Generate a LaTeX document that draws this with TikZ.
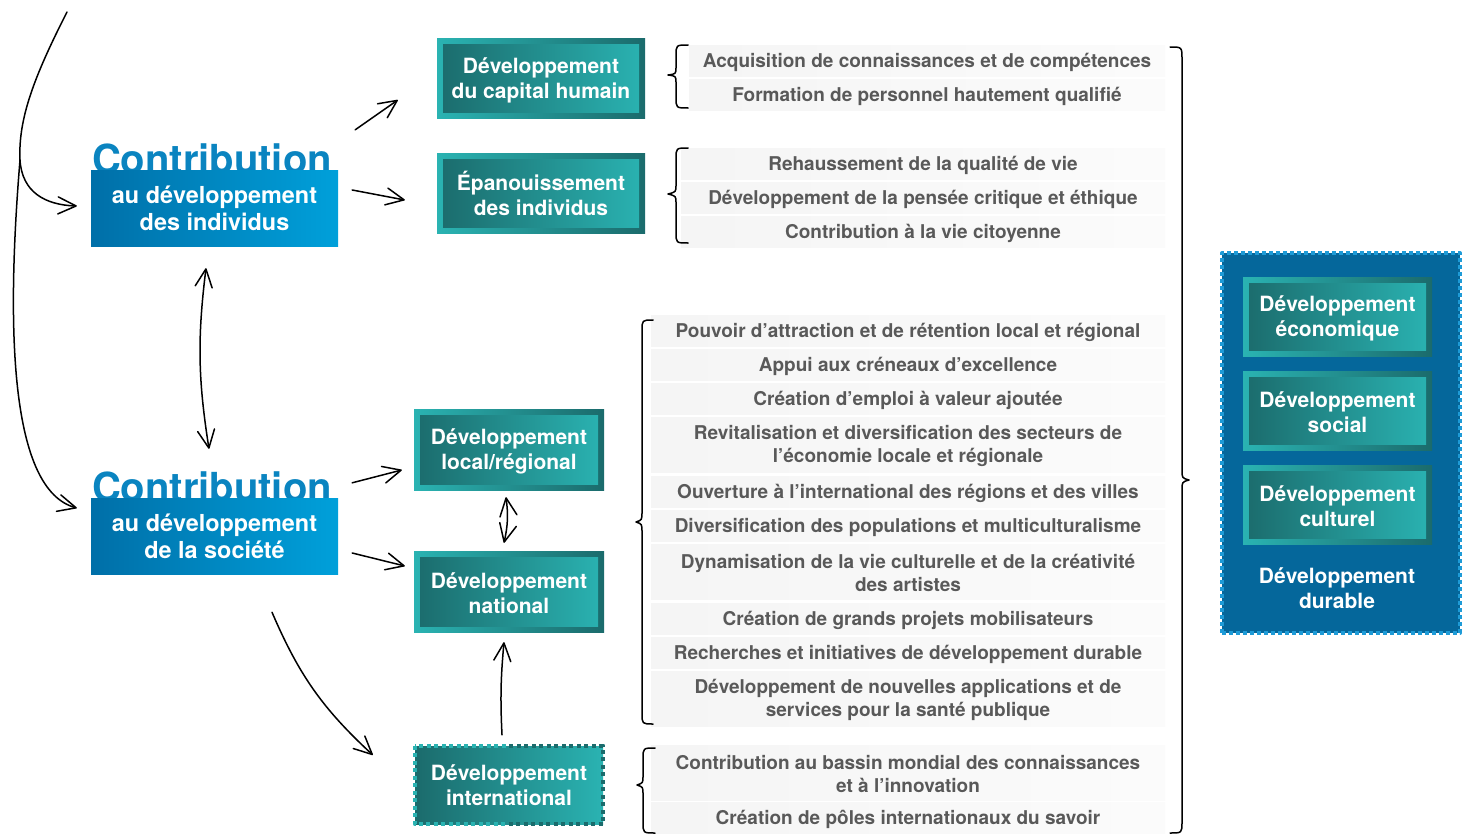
\documentclass[tikz,border=0pt]{standalone}
\usepackage{fontspec}
\setmainfont{TeX Gyre Heros}
\usetikzlibrary{arrows.meta}
\definecolor{blueD}{HTML}{006FA8}
\definecolor{blueL}{HTML}{00A0DA}
\definecolor{blueT}{HTML}{0A84C0}
\definecolor{tealD}{HTML}{1B6B6C}
\definecolor{tealL}{HTML}{2AB3B2}
\definecolor{durFill}{HTML}{05679B}
\definecolor{durEdge}{HTML}{1E9BD7}
\definecolor{listText}{HTML}{595959}
\newcommand{\hi}{\rule{0pt}{0.95em}}
\begin{document}
\begin{tikzpicture}[line cap=round,line join=round,>={Straight Barb[length=18pt,width=17pt,round]},x=1pt,y=-1pt,
  arr/.style={line width=1.5pt,->},
  curly/.style={line width=1.5pt},
  lower/.style={execute at begin node={\rule{0pt}{#1em}}},
  bigtitle/.style={text=blueT,font=\fontsize{40}{40}\selectfont\bfseries,anchor=base,inner sep=0},
  contrib/.style={rectangle,left color=blueD,right color=blueL,minimum width=247,minimum height=76,inner sep=0,
    text=white,align=center,font=\fontsize{23.4}{27}\selectfont\bfseries},
  devbox/.style={rectangle,left color=tealL,right color=tealD,minimum height=80,inner sep=0,
    text=white,align=center,font=\fontsize{21}{25}\selectfont\bfseries,
    path picture={\shade[left color=tealD,right color=tealL] ([shift={(6pt,-6pt)}]path picture bounding box.north west) rectangle ([shift={(-6pt,6pt)}]path picture bounding box.south east);}},
  intbox/.style={rectangle,left color=tealD,right color=tealL,minimum width=188,minimum height=78,inner sep=0,
    text=white,align=center,font=\fontsize{21}{25}\selectfont\bfseries},
  intedge/.style={line width=4pt,line cap=butt,dash pattern=on 4pt off 3.5pt},
  durbox/.style={rectangle,fill=durFill,draw=durEdge,line width=4pt,line cap=butt,dash pattern=on 4pt off 3pt,
    minimum width=238,minimum height=380},
  durtext/.style={text=white,align=center,inner sep=0,font=\fontsize{21}{25}\selectfont\bfseries},
  listrow/.style={rectangle,left color=gray!8,middle color=gray!22,right color=gray!3,minimum height=31,inner sep=0,
    text=listText,align=center,font=\fontsize{19}{23}\selectfont\bfseries},
  tworow/.style={listrow,minimum height=55}]
\useasboundingbox (0,0) rectangle (1465,835);

% contributions
\node[bigtitle] (tci) at (212,173) {Contribution};
\node[contrib] (ci) at (214.5,208) {au développement\\des individus};
\node[bigtitle] (tcs) at (212,501) {Contribution};
\node[contrib] (cs) at (214.5,536) {au développement\\de la société};

% types de developpement
\node[devbox,minimum width=208] (cap) at (541,78) {\hi Développement\\du capital humain};
\node[devbox,minimum width=208] (epa) at (541,193) {Épanouissement\\des individus};
\node[devbox,minimum width=190,minimum height=81] (loc) at (509,449.5) {\hi Développement\\local/régional};
\node[devbox,minimum width=190,minimum height=81] (nat) at (509,591.5) {\hi Développement\\national};
\node[intbox] (int) at (509,785) {Développement\\international};
\draw[intedge,tealL] (int.north west) rectangle (int.south east);
\begin{scope}
\clip ([shift={(0pt,5pt)}]int.north) rectangle ([shift={(5pt,-5pt)}]int.south east);
\draw[intedge,tealD] (int.north west) rectangle (int.south east);
\end{scope}

% developpement durable
\node[durbox] (dur) at (1341,443) {};
\node[devbox,minimum width=189,minimum height=79] (eco) at (1337.5,316.5) {\hi Développement\\économique};
\node[devbox,minimum width=189,minimum height=79] (soc) at (1337.5,410.5) {\hi Développement\\social};
\node[devbox,minimum width=189,minimum height=79] (cul) at (1337.5,504.5) {\hi Développement\\culturel};
\node[durtext] (durlbl) at (1337,588) {Développement\\durable};

% listes
\node[listrow,lower=0.9,minimum width=476] (a1) at (927,61) {Acquisition de connaissances et de compétences};
\node[listrow,lower=0.9,minimum width=476] (a2) at (927,95) {Formation de personnel hautement qualifié};
\node[listrow,lower=0.9,minimum width=484] (b1) at (923,164) {Rehaussement de la qualité de vie};
\node[listrow,lower=0.9,minimum width=484] (b2) at (923,198) {Développement de la pensée critique et éthique};
\node[listrow,lower=0.9,minimum width=484] (b3) at (923,232) {Contribution à la vie citoyenne};
\node[listrow,lower=0.9,minimum width=514] (c1) at (908,331) {Pouvoir d’attraction et de rétention local et régional};
\node[listrow,lower=0.9,minimum width=514] (c2) at (908,365) {Appui aux créneaux d’excellence};
\node[listrow,lower=0.9,minimum width=514] (c3) at (908,399) {Création d’emploi à valeur ajoutée};
\node[tworow,minimum width=514] (c4) at (908,444.5) {\hi Revitalisation et diversification des secteurs de\\l’économie locale et régionale};
\node[listrow,lower=0.9,minimum width=514] (c5) at (908,492) {Ouverture à l’international des régions et des villes};
\node[listrow,lower=0.9,minimum width=514] (c6) at (908,526) {Diversification des populations et multiculturalisme};
\node[tworow,minimum width=514] (c7) at (908,571.5) {\hi Dynamisation de la vie culturelle et de la créativité\\des artistes};
\node[listrow,lower=0.9,minimum width=514] (c8) at (908,619) {Création de grands projets mobilisateurs};
\node[listrow,lower=0.9,minimum width=514] (c9) at (908,653) {Recherches et initiatives de développement durable};
\node[tworow,minimum width=514] (c10) at (908,698.5) {\hi Développement de nouvelles applications et de\\services pour la santé publique};
\node[tworow,minimum width=514] (d1) at (908,772.5) {\hi Contribution au bassin mondial des connaissances\\et à l’innovation};
\node[listrow,lower=0.9,minimum width=514] (d2) at (908,818) {Création de pôles internationaux du savoir};

% accolades
\draw[curly] (688,45) .. controls (676,45) .. (676,56) -- (676,67) .. controls (676,74) .. (668,75) .. controls (676,76) .. (676,83) -- (676,97) .. controls (676,108) .. (688,108);
\draw[curly] (688,148) .. controls (676,148) .. (676,159) -- (676,185) .. controls (676,192) .. (668,194) .. controls (676,196) .. (676,203) -- (676,232) .. controls (676,243) .. (688,243);
\draw[curly] (653,320) .. controls (642,320) .. (642,331) -- (642,512) .. controls (642,520) .. (636,522) .. controls (642,524) .. (642,532) -- (642,713) .. controls (642,724) .. (653,724);
\draw[curly] (655,748) .. controls (643,748) .. (643,759) -- (643,776) .. controls (643,783) .. (637,785) .. controls (643,787) .. (643,794) -- (643,822) .. controls (643,833) .. (655,833);
\draw[curly] (1170,47) .. controls (1182,47) .. (1182,59) -- (1182,470) .. controls (1182,478) .. (1189,480) .. controls (1182,482) .. (1182,490) -- (1182,822) .. controls (1182,833) .. (1170,833);

% fleches
\coordinate (top) at (67,12);
\coordinate (fork) at (20,160);
\draw[arr] (top) .. controls (35,75) and (18,118) .. (fork) .. controls (22,192) and (45,205) .. ([shift={(-14pt,2pt)}]ci.west);
\draw[arr] (fork) .. controls (6,330) and (10,490) .. ([shift={(-14pt,28pt)}]cs.west);
\draw[arr] ([shift={(17pt,40pt)}]ci.north east) -- ([shift={(-39pt,-22pt)}]cap.west);
\draw[arr] ([shift={(14pt,18pt)}]ci.east) -- ([shift={(-32pt,-7pt)}]epa.west);
\draw[arr,<->] ([shift={(-8.5pt,-22pt)}]ci.south) to[bend right=8] ([shift={(-5.5pt,49pt)}]cs.north);
\draw[arr] ([shift={(14pt,15pt)}]cs.north east) -- ([shift={(-12pt,-20.5pt)}]loc.west);
\draw[arr] ([shift={(14pt,-17pt)}]cs.east) -- ([shift={(-9pt,25.5pt)}]nat.west);
\draw[arr] ([shift={(57.5pt,-38pt)}]cs.south) to[bend right=12] ([shift={(-42pt,30pt)}]int.west);
\draw[arr,<->] ([shift={(-3pt,-7pt)}]loc.south) to[bend left=10] ([shift={(-5pt,8pt)}]nat.north);
\draw[arr] ([shift={(-7pt,11pt)}]int.north) to[bend left=4] ([shift={(-5pt,-10pt)}]nat.south);
\end{tikzpicture}
\end{document}
